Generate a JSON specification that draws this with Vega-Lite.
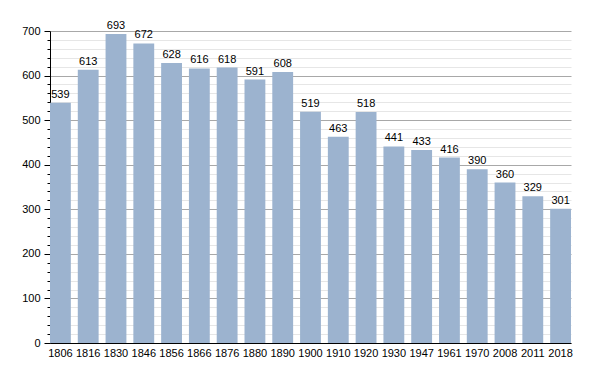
{
  "$schema": "https://vega.github.io/schema/vega-lite/v6.json",
  "width": 521,
  "height": 312,
  "autosize": "none",
  "padding": {"left": 50, "top": 31, "right": 29, "bottom": 30},
  "background": "white",
  "config": {
    "view": {"stroke": null},
    "font": "Liberation Sans"
  },
  "data": {
    "values": [
      {"year": "1806", "pop": 539},
      {"year": "1816", "pop": 613},
      {"year": "1830", "pop": 693},
      {"year": "1846", "pop": 672},
      {"year": "1856", "pop": 628},
      {"year": "1866", "pop": 616},
      {"year": "1876", "pop": 618},
      {"year": "1880", "pop": 591},
      {"year": "1890", "pop": 608},
      {"year": "1900", "pop": 519},
      {"year": "1910", "pop": 463},
      {"year": "1920", "pop": 518},
      {"year": "1930", "pop": 441},
      {"year": "1947", "pop": 433},
      {"year": "1961", "pop": 416},
      {"year": "1970", "pop": 390},
      {"year": "2008", "pop": 360},
      {"year": "2011", "pop": 329},
      {"year": "2018", "pop": 301}
    ]
  },
  "encoding": {
    "x": {
      "field": "year",
      "type": "ordinal",
      "sort": null,
      "scale": {"paddingInner": 0.25, "paddingOuter": 0},
      "axis": {
        "title": null,
        "labelAngle": 0,
        "ticks": false,
        "labelFontSize": 11,
        "labelColor": "#000",
        "labelPadding": 4,
        "domainColor": "#000",
        "domainWidth": 1
      }
    },
    "y": {
      "field": "pop",
      "type": "quantitative",
      "scale": {"domain": [0, 700], "nice": false},
      "axis": {
        "title": null,
        "values": [0,20,40,60,80,100,120,140,160,180,200,220,240,260,280,300,320,340,360,380,400,420,440,460,480,500,520,540,560,580,600,620,640,660,680,700],
        "labelExpr": "datum.value % 100 === 0 ? datum.label : ''",
        "labelFontSize": 11,
        "labelColor": "#000",
        "labelPadding": 4,
        "domainColor": "#000",
        "tickColor": "#000",
        "tickSize": {"condition": {"test": "datum.value % 100 === 0", "value": 6}, "value": 3},
        "grid": true,
        "gridColor": {"condition": {"test": "datum.value % 100 === 0", "value": "#a8a8a8"}, "value": "#e6e6e6"},
        "gridWidth": 1
      }
    }
  },
  "layer": [
    {
      "mark": {"type": "bar", "color": "#9cb3cf"}
    },
    {
      "mark": {"type": "text", "baseline": "bottom", "dy": -3, "fontSize": 11, "color": "#000"},
      "encoding": {"text": {"field": "pop", "type": "quantitative"}}
    }
  ]
}
